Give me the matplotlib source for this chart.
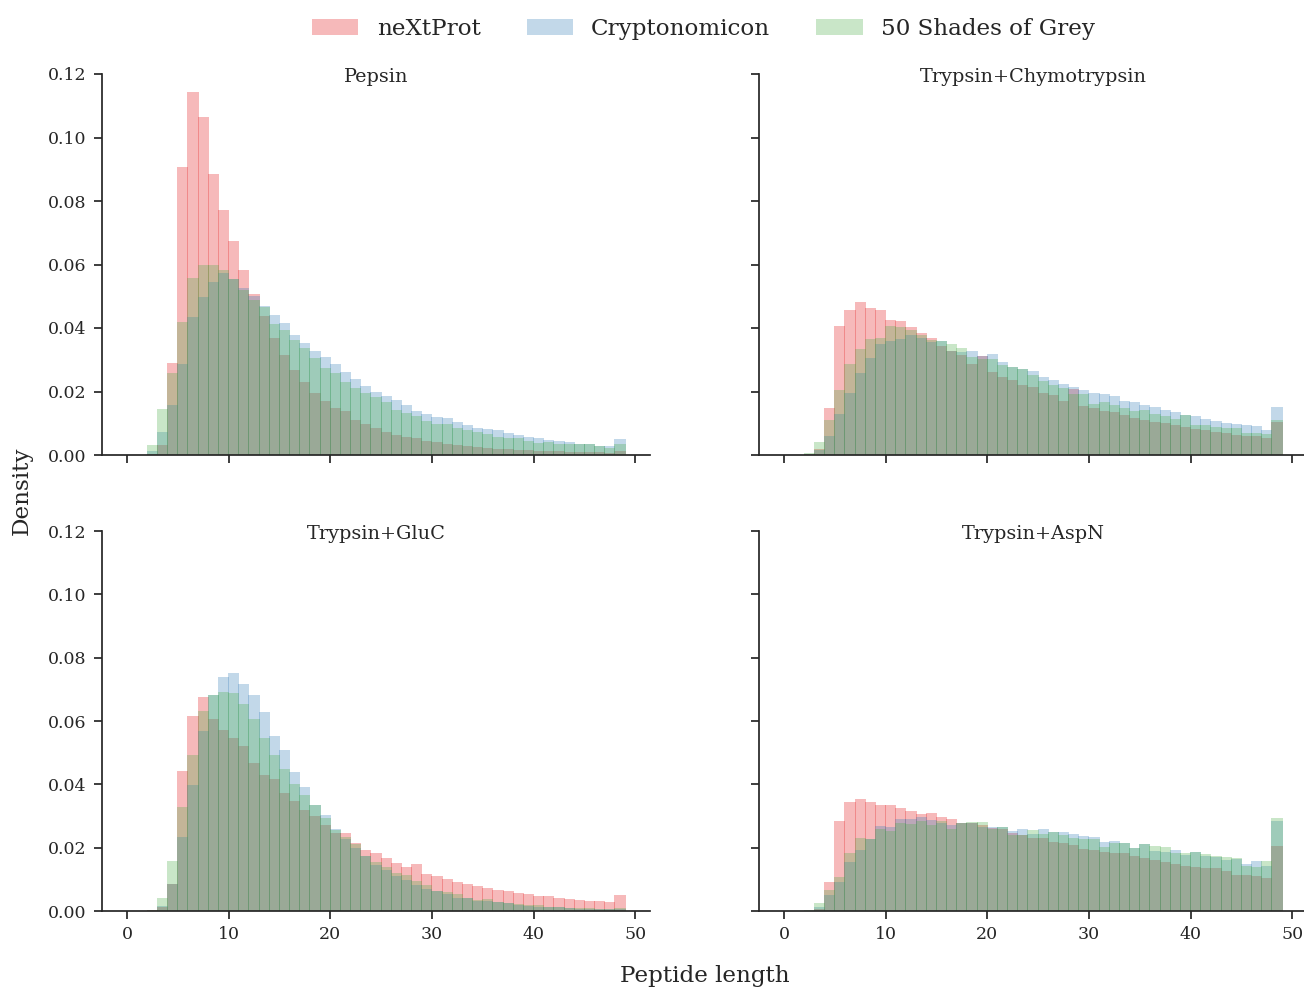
import numpy as np
import matplotlib
matplotlib.use("Agg")
import matplotlib.pyplot as plt
from matplotlib.patches import Patch

# ---------------- data (density per 1-residue bin, bins 0..49) ----------------
bin_edges = list(range(0, 50))          # 0,1,...,49 -> 49 bins
series_names = ["neXtProt", "Cryptonomicon", "50 Shades of Grey"]
panel_titles = ["Pepsin", "Trypsin+Chymotrypsin", "Trypsin+GluC", "Trypsin+AspN"]

pepsin_nextprot = [0, 0, 0.0003, 0.0031, 0.0290, 0.0907, 0.1143, 0.1063, 0.0885, 0.0772,
                   0.0674, 0.0583, 0.0507, 0.0438, 0.0369, 0.0315, 0.0268, 0.0230, 0.0195, 0.0170,
                   0.0148, 0.0139, 0.0110, 0.0098, 0.0085, 0.0072, 0.0063, 0.0057, 0.0054, 0.0044,
                   0.0041, 0.0035, 0.0031, 0.0028, 0.0025, 0.0022, 0.0019, 0.0019, 0.0016, 0.0016,
                   0.0013, 0.0013, 0.0013, 0.0009, 0.0009, 0.0009, 0.0009, 0.0006, 0.0013]
pepsin_crypto = [0, 0, 0.0013, 0.0073, 0.0157, 0.0287, 0.0435, 0.0498, 0.0545, 0.0573,
                 0.0554, 0.0526, 0.0502, 0.0469, 0.0441, 0.0416, 0.0378, 0.0353, 0.0328, 0.0309,
                 0.0287, 0.0261, 0.0239, 0.0217, 0.0198, 0.0186, 0.0173, 0.0157, 0.0139, 0.0129,
                 0.0120, 0.0117, 0.0104, 0.0094, 0.0085, 0.0082, 0.0079, 0.0069, 0.0063, 0.0057,
                 0.0054, 0.0047, 0.0044, 0.0041, 0.0035, 0.0035, 0.0028, 0.0028, 0.0050]
pepsin_grey = [0, 0, 0.0031, 0.0145, 0.0258, 0.0419, 0.0559, 0.0598, 0.0598, 0.0583,
               0.0554, 0.0520, 0.0488, 0.0466, 0.0413, 0.0394, 0.0362, 0.0337, 0.0306, 0.0274,
               0.0258, 0.0230, 0.0211, 0.0195, 0.0183, 0.0167, 0.0142, 0.0132, 0.0123, 0.0107,
               0.0098, 0.0098, 0.0085, 0.0079, 0.0072, 0.0066, 0.0057, 0.0054, 0.0054, 0.0044,
               0.0038, 0.0041, 0.0035, 0.0035, 0.0035, 0.0035, 0.0028, 0.0022, 0.0035]

chymo_nextprot = [0, 0, 0.0002, 0.0018, 0.0148, 0.0406, 0.0457, 0.0482, 0.0463, 0.0457,
                  0.0425, 0.0422, 0.0403, 0.0384, 0.0369, 0.0343, 0.0328, 0.0315, 0.0287, 0.0312,
                  0.0262, 0.0246, 0.0236, 0.0220, 0.0214, 0.0196, 0.0190, 0.0171, 0.0209, 0.0155,
                  0.0149, 0.0140, 0.0136, 0.0127, 0.0118, 0.0111, 0.0105, 0.0102, 0.0096, 0.0089,
                  0.0083, 0.0080, 0.0073, 0.0070, 0.0064, 0.0061, 0.0061, 0.0055, 0.0105]
chymo_crypto = [0, 0, 0.0002, 0.0015, 0.0060, 0.0129, 0.0195, 0.0258, 0.0306, 0.0350,
                0.0359, 0.0365, 0.0378, 0.0369, 0.0356, 0.0359, 0.0328, 0.0324, 0.0328, 0.0312,
                0.0318, 0.0293, 0.0277, 0.0271, 0.0266, 0.0247, 0.0237, 0.0225, 0.0215, 0.0206,
                0.0196, 0.0193, 0.0187, 0.0171, 0.0168, 0.0159, 0.0152, 0.0143, 0.0136, 0.0125,
                0.0124, 0.0114, 0.0108, 0.0102, 0.0099, 0.0096, 0.0092, 0.0080, 0.0152]
chymo_grey = [0, 0, 0.0005, 0.0041, 0.0110, 0.0205, 0.0287, 0.0334, 0.0365, 0.0369,
              0.0406, 0.0403, 0.0394, 0.0378, 0.0362, 0.0359, 0.0350, 0.0337, 0.0309, 0.0302,
              0.0302, 0.0283, 0.0277, 0.0271, 0.0253, 0.0234, 0.0222, 0.0212, 0.0193, 0.0193,
              0.0162, 0.0168, 0.0159, 0.0149, 0.0140, 0.0143, 0.0130, 0.0124, 0.0114, 0.0127,
              0.0096, 0.0096, 0.0089, 0.0086, 0.0086, 0.0070, 0.0070, 0.0067, 0.0111]

gluc_nextprot = [0, 0, 0.0002, 0.0013, 0.0085, 0.0441, 0.0617, 0.0677, 0.0605, 0.0573,
                 0.0545, 0.0520, 0.0466, 0.0431, 0.0416, 0.0372, 0.0346, 0.0318, 0.0299, 0.0271,
                 0.0246, 0.0246, 0.0214, 0.0192, 0.0183, 0.0167, 0.0151, 0.0139, 0.0148, 0.0117,
                 0.0110, 0.0101, 0.0091, 0.0085, 0.0079, 0.0072, 0.0066, 0.0063, 0.0057, 0.0054,
                 0.0047, 0.0047, 0.0041, 0.0038, 0.0035, 0.0031, 0.0031, 0.0028, 0.0050]
gluc_crypto = [0, 0, 0, 0.0016, 0.0085, 0.0233, 0.0397, 0.0567, 0.0683, 0.0740,
               0.0753, 0.0718, 0.0683, 0.0627, 0.0554, 0.0507, 0.0438, 0.0391, 0.0334, 0.0302,
               0.0258, 0.0227, 0.0198, 0.0173, 0.0145, 0.0129, 0.0110, 0.0098, 0.0082, 0.0069,
               0.0063, 0.0054, 0.0041, 0.0041, 0.0031, 0.0031, 0.0028, 0.0025, 0.0019, 0.0016,
               0.0013, 0.0013, 0.0013, 0.0009, 0.0006, 0.0006, 0.0006, 0.0006, 0.0006]
gluc_grey = [0, 0, 0.0003, 0.0041, 0.0157, 0.0328, 0.0494, 0.0633, 0.0683, 0.0693,
             0.0690, 0.0655, 0.0605, 0.0545, 0.0494, 0.0450, 0.0400, 0.0365, 0.0334, 0.0293,
             0.0255, 0.0233, 0.0212, 0.0173, 0.0154, 0.0139, 0.0120, 0.0113, 0.0094, 0.0082,
             0.0063, 0.0060, 0.0054, 0.0041, 0.0035, 0.0038, 0.0028, 0.0025, 0.0022, 0.0019,
             0.0019, 0.0013, 0.0013, 0.0009, 0.0009, 0.0009, 0.0006, 0.0006, 0.0009]

aspn_nextprot = [0, 0, 0, 0.0006, 0.0091, 0.0283, 0.0343, 0.0353, 0.0343, 0.0334,
                 0.0334, 0.0324, 0.0315, 0.0306, 0.0309, 0.0296, 0.0290, 0.0277, 0.0277, 0.0271,
                 0.0262, 0.0258, 0.0246, 0.0239, 0.0230, 0.0230, 0.0217, 0.0214, 0.0208, 0.0195,
                 0.0192, 0.0186, 0.0183, 0.0183, 0.0173, 0.0167, 0.0161, 0.0154, 0.0148, 0.0142,
                 0.0139, 0.0135, 0.0135, 0.0126, 0.0113, 0.0113, 0.0110, 0.0104, 0.0205]
aspn_crypto = [0, 0, 0, 0.0013, 0.0050, 0.0091, 0.0154, 0.0192, 0.0227, 0.0268,
               0.0265, 0.0290, 0.0290, 0.0296, 0.0287, 0.0277, 0.0271, 0.0277, 0.0277, 0.0265,
               0.0265, 0.0265, 0.0252, 0.0258, 0.0243, 0.0258, 0.0249, 0.0249, 0.0243, 0.0236,
               0.0233, 0.0217, 0.0220, 0.0214, 0.0198, 0.0211, 0.0189, 0.0186, 0.0192, 0.0176,
               0.0186, 0.0173, 0.0170, 0.0161, 0.0164, 0.0148, 0.0157, 0.0142, 0.0283]
aspn_grey = [0, 0, 0.0003, 0.0025, 0.0066, 0.0107, 0.0183, 0.0230, 0.0227, 0.0258,
             0.0252, 0.0277, 0.0274, 0.0283, 0.0271, 0.0283, 0.0258, 0.0277, 0.0280, 0.0280,
             0.0258, 0.0265, 0.0239, 0.0239, 0.0255, 0.0243, 0.0249, 0.0239, 0.0230, 0.0227,
             0.0227, 0.0202, 0.0214, 0.0214, 0.0198, 0.0211, 0.0205, 0.0202, 0.0183, 0.0183,
             0.0186, 0.0180, 0.0173, 0.0170, 0.0167, 0.0142, 0.0139, 0.0157, 0.0293]

panels = [
    (pepsin_nextprot, pepsin_crypto, pepsin_grey),
    (chymo_nextprot, chymo_crypto, chymo_grey),
    (gluc_nextprot, gluc_crypto, gluc_grey),
    (aspn_nextprot, aspn_crypto, aspn_grey),
]
colors = ["#e41a1c", "#377eb8", "#4daf4a"]
y_ticks = [0.00, 0.02, 0.04, 0.06, 0.08, 0.10, 0.12]
x_ticks = [0, 10, 20, 30, 40, 50]

# ---------------- style ----------------
plt.rcParams["font.family"] = ["DejaVu Serif"]
plt.rcParams["text.color"] = "#262626"
plt.rcParams["axes.labelcolor"] = "#262626"
plt.rcParams["xtick.color"] = "#262626"
plt.rcParams["ytick.color"] = "#262626"

W, H = 1304, 990
fig = plt.figure(figsize=(W / 100, H / 100), dpi=100)

def frac(x0, y0, x1, y1):
    return [x0 / W, 1 - y1 / H, (x1 - x0) / W, (y1 - y0) / H]

rects = [frac(102, 74, 650, 455), frac(759, 74, 1307, 455),
         frac(102, 531, 650, 911), frac(759, 531, 1307, 911)]

centers = np.array(bin_edges[:-1], dtype=float) + 0.5
for i, (rect, title, data) in enumerate(zip(rects, panel_titles, panels)):
    ax = fig.add_axes(rect)
    for vals, col, name in zip(data, colors, series_names):
        # bars slightly wider than a bin so neighbours overlap in a thin seam
        ax.bar(centers, vals, width=1.1, color=col, alpha=0.3, linewidth=0, label=name)
    ax.set_ylim(0, 0.12)
    ax.set_xlim(-2.45, 51.45)
    ax.set_yticks(y_ticks)
    ax.set_xticks(x_ticks)
    ax.spines["top"].set_visible(False)
    ax.spines["right"].set_visible(False)
    for s in ("left", "bottom"):
        ax.spines[s].set_linewidth(1.25)
        ax.spines[s].set_color("#262626")
    ax.tick_params(direction="out", length=6, width=1.25, labelsize=12.5, pad=5)
    ax.yaxis.set_major_formatter(matplotlib.ticker.FormatStrFormatter("%.2f"))
    if i % 2 == 1:
        ax.tick_params(labelleft=False)
    if i < 2:
        ax.tick_params(labelbottom=False)
    ax.set_title(title, fontsize=13.9, y=1.0, pad=-5.5)

leg_handles = [Patch(facecolor=c, alpha=0.3, edgecolor="none") for c in colors]
fig.legend(leg_handles, series_names, loc="upper center", bbox_to_anchor=(0.5395, 1.0),
           ncol=3, frameon=False, fontsize=16.6, handlelength=2.0, columnspacing=2.0,
           handletextpad=0.8, borderaxespad=0.4)
fig.text(0.017, 0.504, "Density", rotation=90, ha="center", va="center", fontsize=16.6)
fig.text(0.5405, 0.003, "Peptide length", ha="center", va="bottom", fontsize=16.6)

fig.savefig("out.png", dpi=100)
